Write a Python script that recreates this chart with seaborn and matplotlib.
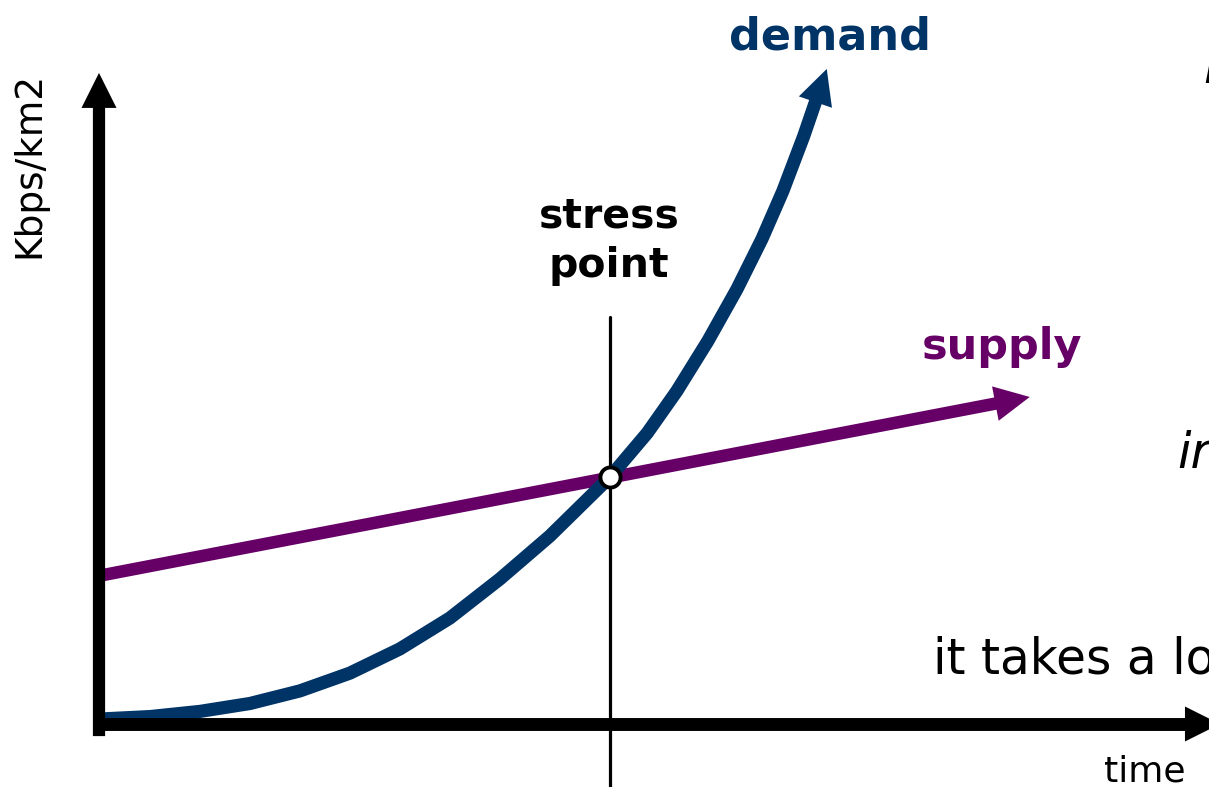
import numpy as np
import matplotlib
matplotlib.use("Agg")
import matplotlib.pyplot as plt
import seaborn as sns

# ---- data (time units, Kbps/km2 units) ----
demand_time = [0.02, 1.0, 1.98, 2.96, 3.94, 4.92, 5.90, 6.88, 7.86, 8.84,
               10.02, 10.75, 11.33, 11.94, 12.51, 13.0, 13.41, 13.82, 14.27]
demand_value = [0.20, 0.30, 0.51, 0.83, 1.34, 2.06, 3.04, 4.29, 5.87, 7.61,
                10.0, 11.78, 13.48, 15.51, 17.61, 19.64, 21.58, 23.81, 26.52]
supply_time = [0.08, 18.25]
supply_value = [6.03, 13.24]
stress_time = 10.02
stress_value = 10.0

NAVY = "#003366"
PURPLE = "#660066"

sns.set_theme(style="white")
plt.rcParams["font.family"] = ["DejaVu Sans"]

fig = plt.figure(figsize=(12.09, 7.87), dpi=100)
ax = fig.add_axes([0, 0, 1, 1])
ax.set_xlim(-1.941, 21.765)
ax.set_ylim(-2.551, 29.312)
ax.set_axis_off()


def head(x0, y0, x1, y1, color, ms=63, z=5):
    ax.annotate("", xy=(x1, y1), xytext=(x0, y0),
                arrowprops=dict(arrowstyle="-|>", color=color, lw=0,
                                mutation_scale=ms, shrinkA=0, shrinkB=0),
                annotation_clip=False, zorder=z)


def trimmed(xs, ys, px):
    p0 = ax.transData.transform((xs[-2], ys[-2]))
    p1 = ax.transData.transform((xs[-1], ys[-1]))
    d = p1 - p0
    d = d / np.hypot(*d)
    xe, ye = ax.transData.inverted().transform(p1 - d * px)
    return list(xs[:-1]) + [xe], list(ys[:-1]) + [ye]


# ---- axes drawn as arrows ----
x_axis_end = 21.98
y_axis_end = 26.36
ax.plot([0, 0], [-0.24, y_axis_end - 1.0], color="black", lw=8.8,
        solid_capstyle="projecting", zorder=7)
head(0, y_axis_end - 2, 0, y_axis_end, "black", z=7)
ax.plot([-0.08, x_axis_end - 0.5], [0, 0], color="black", lw=9.3,
        solid_capstyle="butt", zorder=7)
head(x_axis_end - 2, 0, x_axis_end, 0, "black", z=7)

# ---- stress point vertical line ----
ax.plot([stress_time, stress_time], [16.48, -3.0], color="black", lw=2.3, zorder=1)

# ---- supply ----
sx, sy = trimmed(supply_time, supply_value, 18)
sns.lineplot(x=sx, y=sy, color=PURPLE, linewidth=9.0, sort=False, ax=ax,
             solid_capstyle="butt", zorder=3)
head(supply_time[-2], supply_value[-2], supply_time[-1], supply_value[-1], PURPLE)

# ---- demand ----
dx, dy = trimmed(demand_time, demand_value, 18)
sns.lineplot(x=dx, y=dy, color=NAVY, linewidth=9.5, sort=False, ax=ax,
             solid_capstyle="butt", solid_joinstyle="round", zorder=4)
head(demand_time[-2], demand_value[-2], demand_time[-1], demand_value[-1], NAVY)

# ---- stress point marker ----
ax.plot([stress_time], [stress_value], "o", ms=14.5, mfc="white", mec="black",
        mew=2.8, zorder=6)

# ---- texts ----
ax.text(14.33, 27.29, "demand", color=NAVY, fontsize=32, fontweight="bold",
        ha="center", va="baseline")
ax.text(17.71, 14.78, "supply", color=PURPLE, fontsize=31, fontweight="bold",
        ha="center", va="baseline")
ax.text(10.0, 20.12, "stress", color="black", fontsize=29.5, fontweight="bold",
        ha="center", va="baseline")
ax.text(10.0, 18.10, "point", color="black", fontsize=29.5, fontweight="bold",
        ha="center", va="baseline")
ax.text(16.35, 2.06, "it takes a lo", color="black", fontsize=35,
        ha="left", va="baseline")
ax.text(21.14, 10.36, "ir", color="black", fontsize=35, style="italic",
        ha="left", va="baseline")
ax.text(21.65, 25.95, "i", color="black", fontsize=35, style="italic",
        ha="left", va="baseline")
ax.text(20.51, -2.31, "time", color="black", fontsize=26,
        ha="center", va="baseline")
ax.text(-1.37, 22.63, "Kbps/km2", color="black", fontsize=27, rotation=90,
        ha="center", va="center")

fig.savefig("out.png", dpi=100, facecolor="white")
